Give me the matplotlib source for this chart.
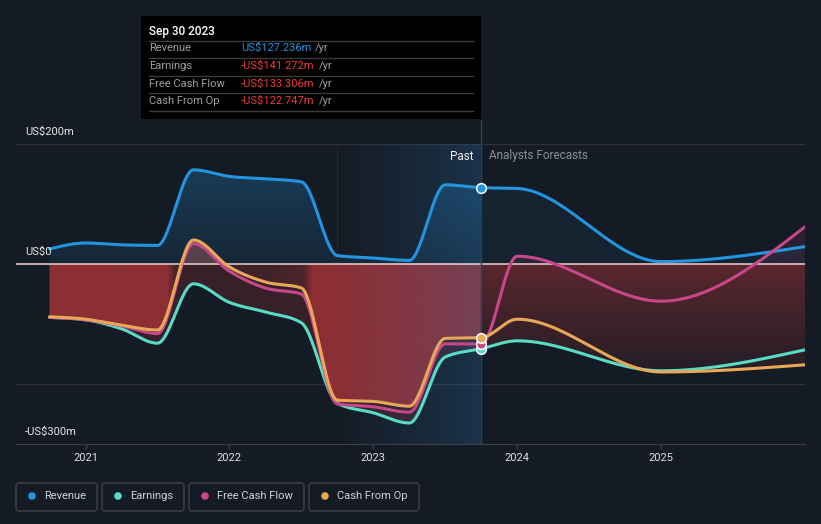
import numpy as np
import matplotlib.pyplot as plt
from matplotlib.patches import Rectangle, FancyBboxPatch, Circle
from matplotlib.lines import Line2D
from matplotlib.transforms import IdentityTransform

plt.rcParams['font.family'] = ['Roboto', 'DejaVu Sans']

W, H = 821, 524
BG = '#151b24'

# -- data (fractional years, US$m, trailing twelve months)
dates = [2020.75, 2021.0, 2021.25, 2021.5, 2021.75, 2022.0, 2022.25, 2022.5,
         2022.75, 2023.0, 2023.25, 2023.5, 2023.75, 2024.0, 2025.0, 2026.0]
revenue = [25, 35, 32, 31, 157, 146, 142, 137, 14, 10, 6, 132, 127.236, 126, 4, 29]
earnings = [-89, -93, -108, -132, -33, -64, -80, -98, -232, -248, -265, -155, -141.272, -128, -178, -143]
free_cash_flow = [-89, -93, -103, -116, 34, -12, -40, -50, -233, -238, -247, -133, -133.306, 13, -62, 62]
cash_from_op = [-88, -92, -102, -110, 40, -5, -30, -40, -227, -229, -237, -124, -122.747, -92, -180, -168]

now = 2023.75
band_start = 2022.75
year_ticks = [2021, 2022, 2023, 2024, 2025]
y_marks = [200, 0, -300]
y_mark_labels = ['US$200m', 'US$0', '-US$300m']

series_names = ['Revenue', 'Earnings', 'Free Cash Flow', 'Cash From Op']
series_colors = ['#2394df', '#58dcc6', '#c8478b', '#e8a858']
tooltip_values = ['US$127.236m', '-US$141.272m', '-US$133.306m', '-US$122.747m']
tooltip_colors = ['#2394df', '#ee3b3b', '#ee3b3b', '#ee3b3b']


def monotone(xk, yk, xq):
    # monotone cubic (d3 curveMonotoneX style)
    xk = np.asarray(xk, float)
    yk = np.asarray(yk, float)
    xq = np.asarray(xq, float)
    h = np.diff(xk)
    d = np.diff(yk) / h
    m = np.zeros_like(yk)
    for k in range(1, len(xk) - 1):
        s0, s1 = d[k - 1], d[k]
        p = (s0 * h[k] + s1 * h[k - 1]) / (h[k - 1] + h[k])
        m[k] = (np.sign(s0) + np.sign(s1)) * min(abs(s0), abs(s1), 0.5 * abs(p))
    m[0] = (3 * d[0] - m[1]) / 2
    m[-1] = (3 * d[-1] - m[-2]) / 2
    i = np.clip(np.searchsorted(xk, xq, side='right') - 1, 0, len(xk) - 2)
    t = (xq - xk[i]) / h[i]
    h00 = 2 * t**3 - 3 * t**2 + 1
    h10 = t**3 - 2 * t**2 + t
    h01 = -2 * t**3 + 3 * t**2
    h11 = t**3 - t**2
    out = h00 * yk[i] + h10 * h[i] * m[i] + h01 * yk[i + 1] + h11 * h[i] * m[i + 1]
    out[(xq < xk[0]) | (xq > xk[-1])] = np.nan
    return out


fig = plt.figure(figsize=(W / 100, H / 100), dpi=100, facecolor=BG)
x0 = 2021 + (16 - 85.5) / 143.9
x1 = 2021 + (805 - 85.5) / 143.9
ax = fig.add_axes([16 / W, 80 / H, 789 / W, 324 / H])
ax.set_facecolor(BG)
ax.set_xlim(x0, x1)
ax.set_ylim(-300, 240)

# -- area fills, built as images in data coordinates
nx, ny = 1600, 1100
xs = np.linspace(x0, x1, nx)
ys = np.linspace(-300, 240, ny)
X, Y = np.meshgrid(xs, ys)
R = monotone(dates, revenue, xs)[None, :]
E = monotone(dates, earnings, xs)[None, :]
F = monotone(dates, free_cash_flow, xs)[None, :]
C = monotone(dates, cash_from_op, xs)[None, :]
valid = ~np.isnan(R)
R, E, F, C = [np.nan_to_num(a) for a in (R, E, F, C)]
past = X <= now
ext = [x0, x1, -300, 240]


def rgba(color, alpha):
    img = np.zeros(alpha.shape + (4,))
    img[..., :3] = np.array(color) / 255
    img[..., 3] = np.where(valid, alpha, 0)
    return img


# revenue (blue)
in_rev = (Y > 0) & (Y < R)
a_rev = np.where(past, 0.1 + 0.17 * np.clip(Y / 160, 0, 1), 0.07)
ax.imshow(rgba((35, 148, 223), np.where(in_rev, a_rev, 0)), extent=ext, origin='lower',
          aspect='auto', zorder=1)

# negative values (red)
low = np.minimum(np.minimum(np.minimum(E, F), C), 0)
below = (Y < 0) & (Y > low)
in_cfo = (Y < 0) & (Y > C)
a_past = np.where(in_cfo, np.clip(-C / 100, 0.3, 0.85), np.where(below, 0.25, 0))
a_fc = np.where(below, np.clip(0.5 + Y / 460, 0.1, 0.5), 0)
ax.imshow(rgba((163, 51, 56), np.where(past, a_past, a_fc)), extent=ext, origin='lower',
          aspect='auto', zorder=2)

# positive cash flow bumps
top_cf = np.maximum(F, C)
pos_past = past & (Y > 0) & (Y < top_cf)
ax.imshow(rgba((190, 110, 110), np.where(pos_past, 0.38, 0)), extent=ext, origin='lower',
          aspect='auto', zorder=2)
pos_fc = (~past) & (Y > 0) & (Y < F)
ax.imshow(rgba((200, 72, 138), np.where(pos_fc, 0.12, 0)), extent=ext, origin='lower',
          aspect='auto', zorder=2)

# last-year highlight band
in_band = (X >= band_start) & (X <= now) & (Y <= 200)
a_band = np.where(in_band, 0.24 * (X - band_start) / (now - band_start), 0)
band = np.zeros(a_band.shape + (4,))
band[..., :3] = np.array((45, 125, 195)) / 255
band[..., 3] = a_band
ax.imshow(band, extent=ext, origin='lower', aspect='auto', zorder=3)
ax.plot([band_start, band_start], [0, 200], color='#1f2b38', lw=0.8, zorder=1.5)

# -- grid and reference lines
for v in (200, -200):
    ax.axhline(v, color='#2c313a', lw=1, zorder=0.5)
ax.axhline(0, color='#f2d2d2', lw=1.1, zorder=4)
ax.axvline(now, color='#2b4158', lw=1, zorder=4)

# -- lines
xd = np.linspace(dates[0], dates[-1], 2000)
for vals, col in zip([revenue, earnings, free_cash_flow, cash_from_op], series_colors):
    ax.plot(xd, monotone(dates, vals, xd), color=col, lw=2.2, solid_capstyle='round', zorder=5)
i_now = dates.index(now)
for vals, col in zip([revenue, earnings, free_cash_flow, cash_from_op], series_colors):
    ax.plot(now, vals[i_now], 'o', ms=7, mfc=col, mec='white', mew=1.1, zorder=6)

ax.text(now - 0.055, 180, 'Past', color='#f0f0f0', fontsize=8.5, ha='right', va='center', zorder=7)
ax.text(now + 0.055, 180, 'Analysts Forecasts', color='#8a9099', fontsize=8.5, ha='left', va='center', zorder=7)

for v, lab in zip(y_marks, y_mark_labels):
    ax.text(x0 + 9 / 143.9, v + 21, lab, color='#e6e6e6', fontsize=8, ha='left', va='center', zorder=7)

# -- axes styling
for s in ('top', 'right', 'left'):
    ax.spines[s].set_visible(False)
ax.spines['bottom'].set_color('#3a3f47')
ax.set_yticks([])
ax.set_xticks(year_ticks)
ax.set_xticklabels([str(y) for y in year_ticks])
ax.tick_params(axis='x', colors='#3a3f47', labelcolor='#e0e0e0', length=3.5, width=1,
               pad=3, labelsize=8)

# -- tooltip (pixel coords, origin top-left)
ident = IdentityTransform()


def P(x, y):
    return x, H - y


fig.add_artist(Rectangle(P(141, 119), 340, 103, transform=ident, facecolor='black',
                         edgecolor='none', zorder=10))
fig.text(*P(149, 31), 'Sep 30 2023', transform=ident, color='white', fontsize=8.5,
         fontweight='medium', va='center', ha='left', zorder=11)
for yy in (41, 58, 76, 93, 111):
    fig.add_artist(Line2D([149, 473], [H - yy, H - yy], transform=ident, color='#3a3a3a',
                          lw=1, zorder=11))
row_y = [48, 66, 84, 101]
val_texts = []
for name, val, col, yy in zip(series_names, tooltip_values, tooltip_colors, row_y):
    fig.text(*P(149, yy), name, transform=ident, color='#a0a0a0', fontsize=8, va='center', zorder=11)
    val_texts.append(fig.text(*P(241, yy), val, transform=ident, color=col, fontsize=8,
                              va='center', zorder=11))

# -- legend
legend_boxes = [(16, 97), (102, 184), (189, 304), (309, 419)]
for (bx0, bx1), name, col in zip(legend_boxes, series_names, series_colors):
    fig.add_artist(FancyBboxPatch(P(bx0, 511), bx1 - bx0, 28, transform=ident,
                                  boxstyle='round,pad=0,rounding_size=3', facecolor='none',
                                  edgecolor='#3c414b', lw=1, zorder=10))
    fig.add_artist(Circle(P(bx0 + 16, 496), 3.8, transform=ident, facecolor=col,
                          edgecolor='none', zorder=11))
    fig.text(*P(bx0 + 28, 496), name, transform=ident, color='#cfd3d8', fontsize=8,
             va='center', ha='left', zorder=11)

fig.canvas.draw()
renderer = fig.canvas.get_renderer()
for t, yy in zip(val_texts, row_y):
    bb = t.get_window_extent(renderer)
    fig.text(bb.x1 + 4, H - yy, '/yr', transform=ident, color='#a0a0a0', fontsize=8,
             va='center', zorder=11)

fig.savefig('out.png', dpi=100, facecolor=BG)
